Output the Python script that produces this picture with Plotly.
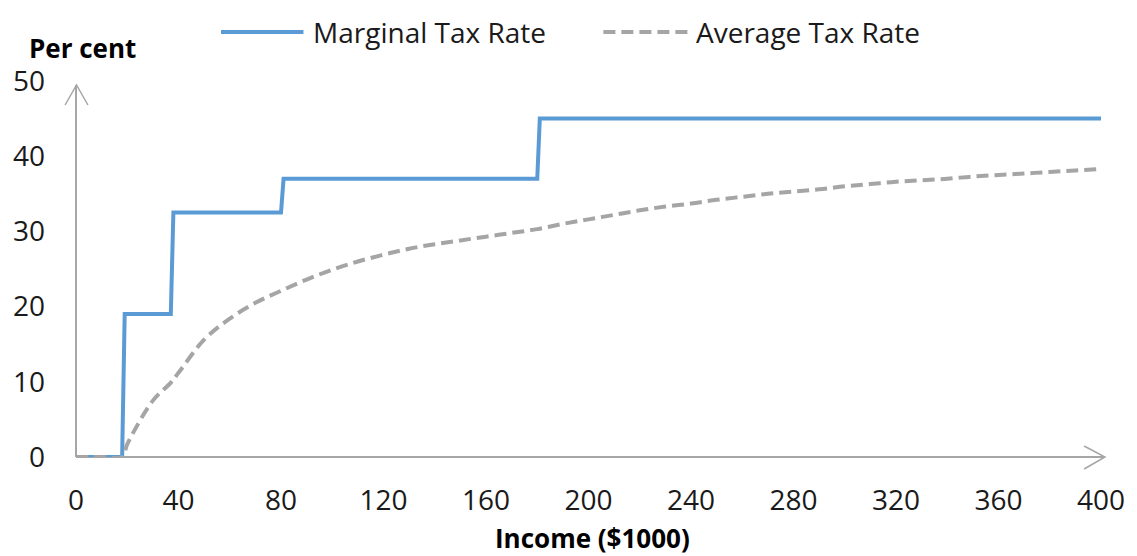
import plotly.graph_objects as go

# Marginal tax rate (step points, $1000 / per cent)
marg_income = [0, 18, 19, 37, 38, 80, 81, 180, 181, 400]
marg_rate = [0, 0, 19, 19, 32.5, 32.5, 37, 37, 45, 45]

# Average tax rate
avg_income = [0, 10, 18, 20, 30, 37, 40, 50, 60, 70, 80, 90, 100, 110, 120, 130, 140,
              150, 160, 170, 180, 190, 200, 210, 220, 230, 240, 250, 260, 270, 280,
              290, 300, 310, 320, 330, 340, 350, 360, 370, 380, 390, 400]
avg_rate = [0, 0, 0, 1.7, 7.5, 9.9, 11.2, 15.6, 18.4, 20.5, 22.1, 23.6, 24.9, 26.0,
            26.9, 27.7, 28.3, 28.8, 29.3, 29.8, 30.3, 31.0, 31.6, 32.2, 32.8, 33.3,
            33.7, 34.2, 34.6, 35.0, 35.3, 35.6, 36.0, 36.3, 36.6, 36.8, 37.0, 37.3,
            37.5, 37.7, 37.9, 38.1, 38.3]

x_ticks = [0, 40, 80, 120, 160, 200, 240, 280, 320, 360, 400]
y_ticks = [0, 10, 20, 30, 40, 50]

BLUE = "#5B9BD5"
GREY = "#A5A5A5"
AXIS = "#A6A6A6"
FONT = "Open Sans"

W, H = 1137, 556
# plot area in pixels
L, R, T, B = 76, 1108, 81, 457


def px(x):
    return (x - L) / (R - L)


def py(y):
    return (B - y) / (B - T)


fig = go.Figure()
fig.add_trace(go.Scatter(x=marg_income, y=marg_rate, mode="lines",
                         line=dict(color=BLUE, width=4), name="Marginal Tax Rate",
                         showlegend=False, cliponaxis=False))
fig.add_trace(go.Scatter(x=avg_income, y=avg_rate, mode="lines",
                         line=dict(color=GREY, width=4, dash="12px,6px", shape="spline"),
                         name="Average Tax Rate", showlegend=False, cliponaxis=False))

shapes = []
# axes with open arrowheads
shapes.append(dict(type="line", xref="paper", yref="paper", x0=px(76), y0=py(457),
                   x1=px(1112), y1=py(457), line=dict(color=AXIS, width=2), layer="below"))
shapes.append(dict(type="line", xref="paper", yref="paper", x0=px(76), y0=py(457),
                   x1=px(76), y1=py(85), line=dict(color=AXIS, width=2), layer="below"))
shapes.append(dict(type="path", xref="paper", yref="paper",
                   path=f"M{px(1091)},{py(446)} L{px(1112)},{py(457)} L{px(1091)},{py(469)}",
                   line=dict(color=AXIS, width=1.5)))
shapes.append(dict(type="path", xref="paper", yref="paper",
                   path=f"M{px(65)},{py(105)} L{px(76.5)},{py(85)} L{px(88)},{py(105)}",
                   line=dict(color=AXIS, width=1.5)))
# legend samples
shapes.append(dict(type="line", xref="paper", yref="paper", x0=px(222), y0=py(32),
                   x1=px(305), y1=py(32), line=dict(color=BLUE, width=4)))
shapes.append(dict(type="line", xref="paper", yref="paper", x0=px(607), y0=py(32),
                   x1=px(692), y1=py(32), line=dict(color=GREY, width=4, dash="12px,6px")))

annotations = [
    dict(text="Marginal Tax Rate", xref="paper", yref="paper", x=px(313), y=py(32),
         xanchor="left", yanchor="middle", showarrow=False,
         font=dict(family=FONT, size=28, color="#1a1a1a")),
    dict(text="Average Tax Rate", xref="paper", yref="paper", x=px(698), y=py(32),
         xanchor="left", yanchor="middle", showarrow=False,
         font=dict(family=FONT, size=28, color="#1a1a1a")),
    dict(text="<b>Per cent</b>", xref="paper", yref="paper", x=px(27), y=py(48),
         xanchor="left", yanchor="middle", showarrow=False,
         font=dict(family=FONT, size=26, color="#000000")),
    dict(text="<b>Income ($1000)</b>", xref="paper", yref="paper", x=px(596), y=py(538),
         xanchor="center", yanchor="middle", showarrow=False,
         font=dict(family=FONT, size=26, color="#000000")),
]

fig.update_layout(
    width=W, height=H,
    margin=dict(l=L, r=W - R, t=T, b=H - B, pad=0),
    paper_bgcolor="white", plot_bgcolor="white",
    shapes=shapes, annotations=annotations,
    xaxis=dict(range=[0, 400], tickmode="array", tickvals=x_ticks,
               ticktext=[str(v) for v in x_ticks], showgrid=False, zeroline=False,
               showline=False, ticks="", ticklabelstandoff=24,
               tickfont=dict(family=FONT, size=28, color="#1a1a1a"), fixedrange=True),
    yaxis=dict(range=[0, 50], tickmode="array", tickvals=y_ticks,
               ticktext=[str(v) for v in y_ticks], showgrid=False, zeroline=False,
               showline=False, ticks="", ticklabelstandoff=30,
               tickfont=dict(family=FONT, size=28, color="#1a1a1a"), fixedrange=True),
    showlegend=False,
    hovermode=False,
)

fig.write_html(
    "out.html",
    config={"displayModeBar": False, "staticPlot": True},
    post_script="document.body.style.margin='0';document.body.style.overflow='hidden';",
)
